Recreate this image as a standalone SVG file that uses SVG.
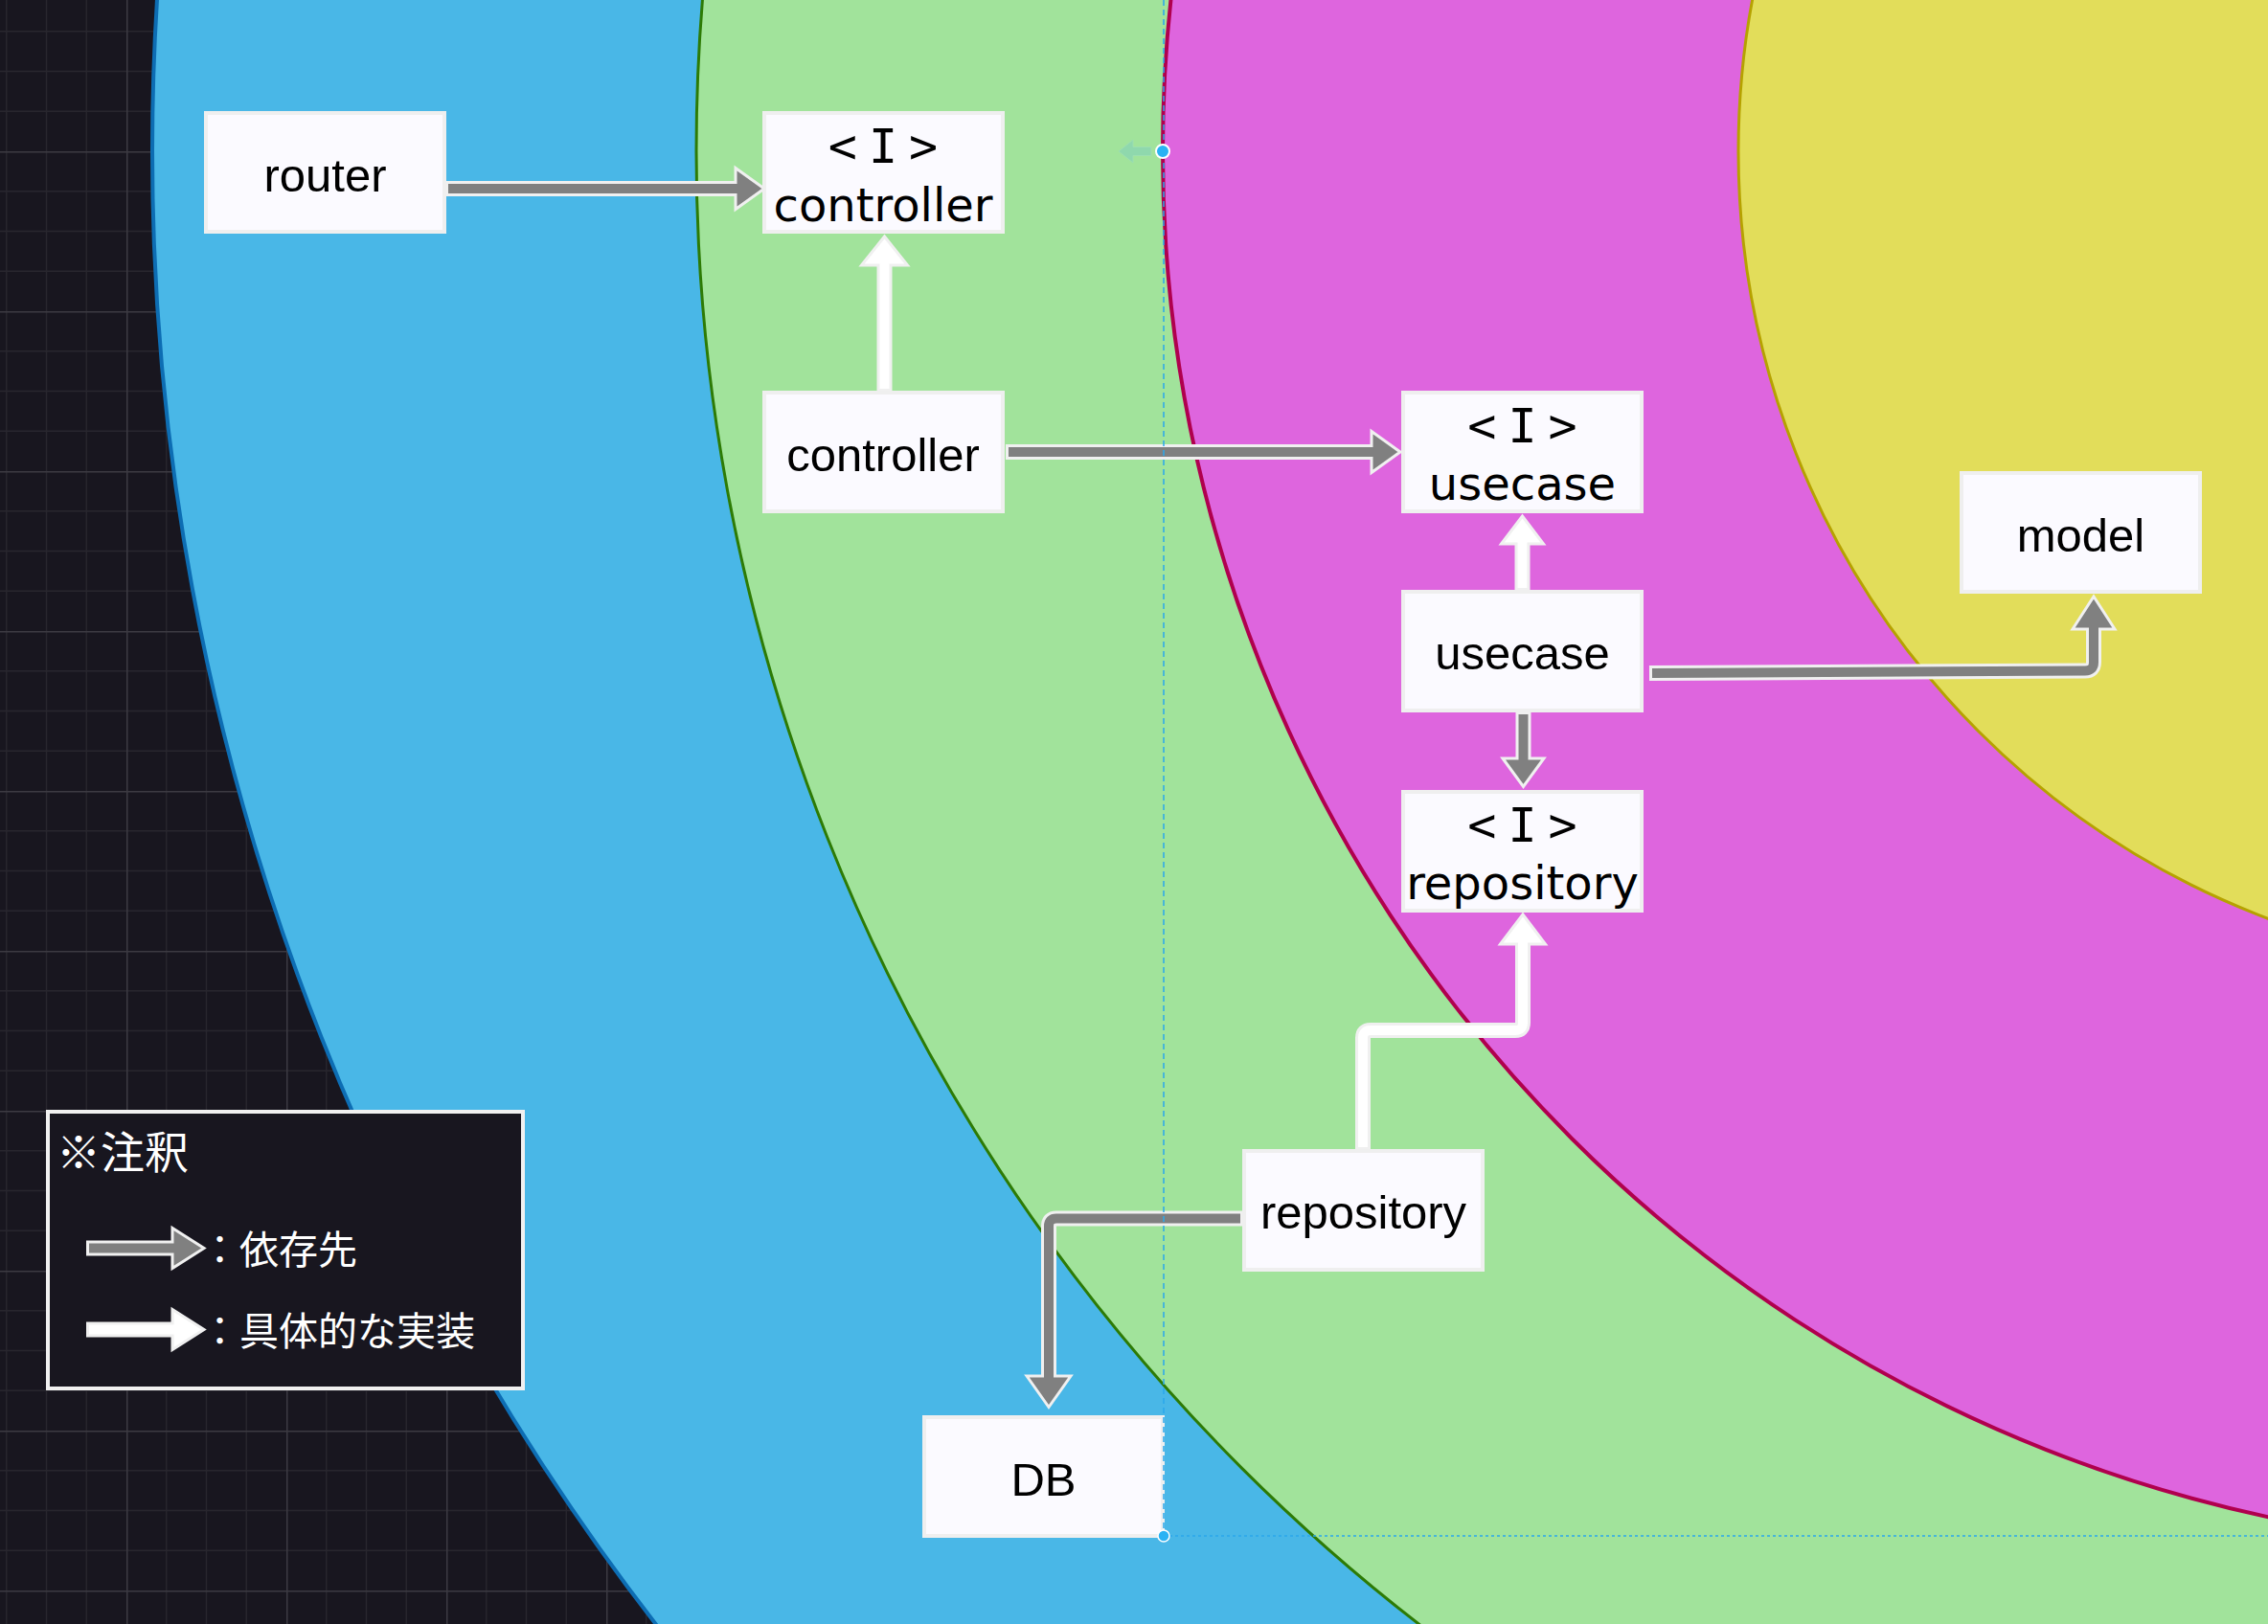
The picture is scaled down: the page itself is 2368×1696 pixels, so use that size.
<svg xmlns="http://www.w3.org/2000/svg" width="2368" height="1696" viewBox="0 0 2368 1696">
<defs>
<pattern id="grid" patternUnits="userSpaceOnUse" x="-35" y="-9" width="167" height="167">
<rect width="167" height="167" fill="#18161f"/>
<path d="M41.75 0V167M83.5 0V167M125.25 0V167M0 41.75H167M0 83.5H167M0 125.25H167" stroke="#28262e" stroke-width="1.3" fill="none"/>
<path d="M0.75 0V167M0 0.75H167" stroke="#3c3a42" stroke-width="1.5" fill="none"/>
</pattern>
<style>
.box{fill:#fbfaff;stroke:#efefef;stroke-width:4}
.t{font-family:"Liberation Sans",Arial,sans-serif;font-size:49px;fill:#000;text-anchor:middle}
.ti{font-family:"DejaVu Sans",sans-serif;font-size:48px;fill:#000;text-anchor:middle}
.ii{font-family:"DejaVu Sans Mono",monospace;font-size:50px;letter-spacing:12px}
.ao{fill:none;stroke:#f0f0f0;stroke-width:16;stroke-linejoin:round}
.ag{fill:none;stroke:#808080;stroke-width:10;stroke-linejoin:round}
.aw{fill:none;stroke:#ffffff;stroke-width:10;stroke-linejoin:round}
.hg{fill:#808080;stroke:#f0f0f0;stroke-width:3}
.hw{fill:#ffffff;stroke:#f0f0f0;stroke-width:3}
.lg{font-family:"Noto Sans CJK JP","Noto Sans",sans-serif;fill:#ffffff}
.guide{fill:none;stroke:#2aa8ec;stroke-width:1.5}
</style>
</defs>
<rect width="2368" height="1696" fill="url(#grid)"/>
<g id="layers">
<circle id="layer-blue" cx="2672" cy="158" r="2513" fill="#49b7e7" stroke="#0d6db3" stroke-width="4"/>
<circle id="layer-green" cx="2672" cy="158" r="1945" fill="#a1e39b" stroke="#2d7b05" stroke-width="3"/>
<circle id="layer-magenta" cx="2672" cy="158" r="1458" fill="#de65de" stroke="#b0004e" stroke-width="4"/>
<circle id="layer-yellow" cx="2672" cy="158" r="857" fill="#e2dd5a" stroke="#b6a200" stroke-width="3"/>
</g>
<g id="connectors">
<!-- router -> <I>controller -->
<path class="ao" d="M466,197 H770"/>
<polygon class="hg" points="768,175.5 798,197 768,218.5"/>
<path class="ag" d="M468,197 H771"/>
<!-- controller -> <I>controller (impl) -->
<path class="ao" d="M923.5,408 V276"/>
<polygon class="hw" points="899.5,277 923.5,247 947.5,277"/>
<path class="aw" d="M923.5,406 V275"/>
<!-- controller -> <I>usecase -->
<path class="ao" d="M1050,472 H1434"/>
<polygon class="hg" points="1432,450.5 1462,472 1432,493.5"/>
<path class="ag" d="M1053,472 H1435"/>
<!-- usecase -> <I>usecase (impl) -->
<path class="ao" d="M1589.5,616 V567"/>
<polygon class="hw" points="1567.5,568 1589.5,539 1611.5,568"/>
<path class="aw" d="M1589.5,614 V566"/>
<!-- usecase -> <I>repository -->
<path class="ao" d="M1590.5,744 V794"/>
<polygon class="hg" points="1569,792 1590.5,821.5 1612,792"/>
<path class="ag" d="M1590.5,746 V795"/>
<!-- usecase -> model -->
<path class="ao" d="M1722,703 L2177,700.5 Q2186,700.5 2186,691.5 V656"/>
<polygon class="hg" points="2164,657 2186,623 2208,657"/>
<path class="ag" d="M1725,703 L2177,700.5 Q2186,700.5 2186,691.5 V655"/>
<!-- repository -> <I>repository (impl) -->
<path class="ao" d="M1423,1200 V1084 Q1423,1076 1431,1076 H1582 Q1590,1076 1590,1068 V984"/>
<polygon class="hw" points="1566.5,986 1590,955 1613.5,986"/>
<path class="aw" d="M1423,1198 V1084 Q1423,1076 1431,1076 H1582 Q1590,1076 1590,1068 V983"/>
<!-- repository -> DB -->
<path class="ao" d="M1297,1272.5 H1103 Q1095,1272.5 1095,1280.5 V1438"/>
<polygon class="hg" points="1072,1437 1095,1469.5 1118,1437"/>
<path class="ag" d="M1295,1272.5 H1103 Q1095,1272.5 1095,1280.5 V1439"/>
</g>
<g id="router">
<rect class="box" x="215" y="118" width="249" height="124"/>
<text class="t" x="339.5" y="200">router</text>
</g>
<g id="i-controller">
<rect class="box" x="798" y="118" width="249" height="124"/>
<text class="ti ii" x="928" y="170">&lt;I&gt;</text>
<text class="ti" x="922" y="231">controller</text>
</g>
<g id="controller">
<rect class="box" x="798" y="410" width="249" height="124"/>
<text class="t" x="922" y="492">controller</text>
</g>
<g id="i-usecase">
<rect class="box" x="1465" y="410" width="249" height="124"/>
<text class="ti ii" x="1595.5" y="462">&lt;I&gt;</text>
<text class="ti" x="1589.5" y="522">usecase</text>
</g>
<g id="usecase">
<rect class="box" x="1465" y="618" width="249" height="124"/>
<text class="t" x="1589.5" y="699">usecase</text>
</g>
<g id="i-repository">
<rect class="box" x="1465" y="827" width="249" height="124"/>
<text class="ti ii" x="1595.5" y="879">&lt;I&gt;</text>
<text class="ti" x="1589.5" y="939">repository</text>
</g>
<g id="model">
<rect class="box" x="2048" y="494" width="249" height="124"/>
<text class="t" x="2172.5" y="576">model</text>
</g>
<g id="repository">
<rect class="box" x="1299" y="1202" width="249" height="124"/>
<text class="t" x="1423.5" y="1283">repository</text>
</g>
<g id="db">
<rect class="box" x="965" y="1480" width="249" height="124"/>
<text class="t" x="1089.5" y="1562">DB</text>
</g>
<g id="legend">
<rect x="50" y="1161" width="496" height="289" fill="#18161f" stroke="#f0f0f0" stroke-width="4"/>
<text class="lg" x="59" y="1220" font-size="46">※注釈</text>
<path class="ao" d="M90,1303.5 H182"/>
<polygon class="hg" points="180,1282.5 213,1303.5 180,1324.5"/>
<path class="ag" d="M93,1303.5 H183"/>
<text class="lg" x="209" y="1320" font-size="41">：依存先</text>
<path class="ao" d="M90,1388.5 H182"/>
<polygon class="hw" points="180,1367.5 213,1388.5 180,1409.5"/>
<path class="aw" d="M93,1388.5 H183"/>
<text class="lg" x="209" y="1405" font-size="41">：具体的な実装</text>
</g>
<g id="guides">
<path class="guide" d="M1215,0 V1604" stroke-dasharray="6 4"/>
<path class="guide" d="M1215,1604 H2368" stroke-dasharray="3 3"/>
<polygon points="1168,158 1183,146 1183,153.5 1202,153.5 1202,162.5 1183,162.5 1183,170" fill="#8fd8ad" stroke="#9ddfb0" stroke-width="1"/>
<circle cx="1214" cy="158" r="7" fill="#29b2f4" stroke="#ffffff" stroke-width="2"/>
<circle cx="1215" cy="1604" r="6" fill="#29b2f4" stroke="#ffffff" stroke-width="1.5"/>
</g>
</svg>
